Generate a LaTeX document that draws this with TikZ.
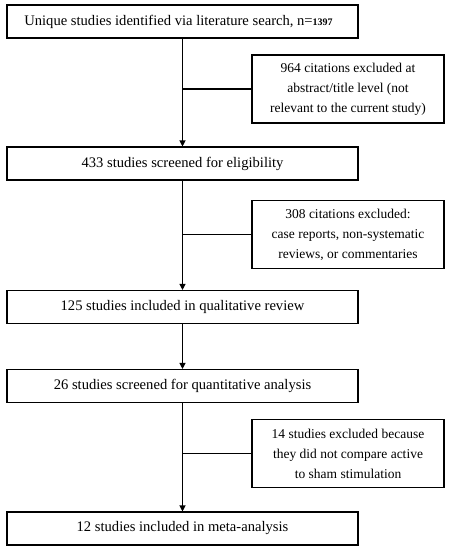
\documentclass[tikz,border=0pt]{standalone}
\usepackage{fontspec}
\setmainfont{Liberation Serif}
\usetikzlibrary{arrows.meta}
\begin{document}
\begin{tikzpicture}[x=1pt,y=-1pt,
  mainbox/.style={draw,line width=1.1pt,minimum width=351pt,minimum height=33pt,inner sep=0pt,font=\fontsize{14.6}{16}\selectfont},
  sidebox/.style={draw,line width=1.1pt,minimum width=192pt,minimum height=68pt,inner sep=0pt,align=center,font=\fontsize{13.5}{20}\selectfont},
  flow/.style={line width=1.1pt,-{Triangle[width=6pt,length=6pt]}},
  branch/.style={line width=1.1pt}]
\useasboundingbox (0,0) rectangle (450,550);
\node[mainbox] (b1) at (182.5,21.5) {\hspace*{-8pt}Unique studies identified via literature search, n={\fontsize{10}{11}\selectfont\bfseries 1397}};
\node[mainbox] (b2) at (182.5,163.5) {433 studies screened for eligibility};
\node[mainbox] (b3) at (182.5,307) {125 studies included in qualitative review};
\node[mainbox] (b4) at (182.5,386) {26 studies screened for quantitative analysis};
\node[mainbox] (b5) at (182.5,528.5) {12 studies included in meta-analysis};
\node[sidebox] (s1) at (348,89) {964 citations excluded at\\abstract/title level (not\\relevant to the current study)};
\node[sidebox] (s2) at (348,234.5) {308 citations excluded:\\case reports, non-systematic\\reviews, or commentaries};
\node[sidebox] (s3) at (348,453.5) {14 studies excluded because\\they did not compare active\\to sham stimulation};
\draw[flow] (b1.south) -- (b2.north);
\draw[flow] (b2.south) -- (b3.north);
\draw[flow] (b3.south) -- (b4.north);
\draw[flow] (b4.south) -- (b5.north);
\draw[branch] (s1.west) -- (s1.west -| b1.south);
\draw[branch] (s2.west) -- (s2.west -| b1.south);
\draw[branch] (s3.west) -- (s3.west -| b1.south);
\end{tikzpicture}
\end{document}
